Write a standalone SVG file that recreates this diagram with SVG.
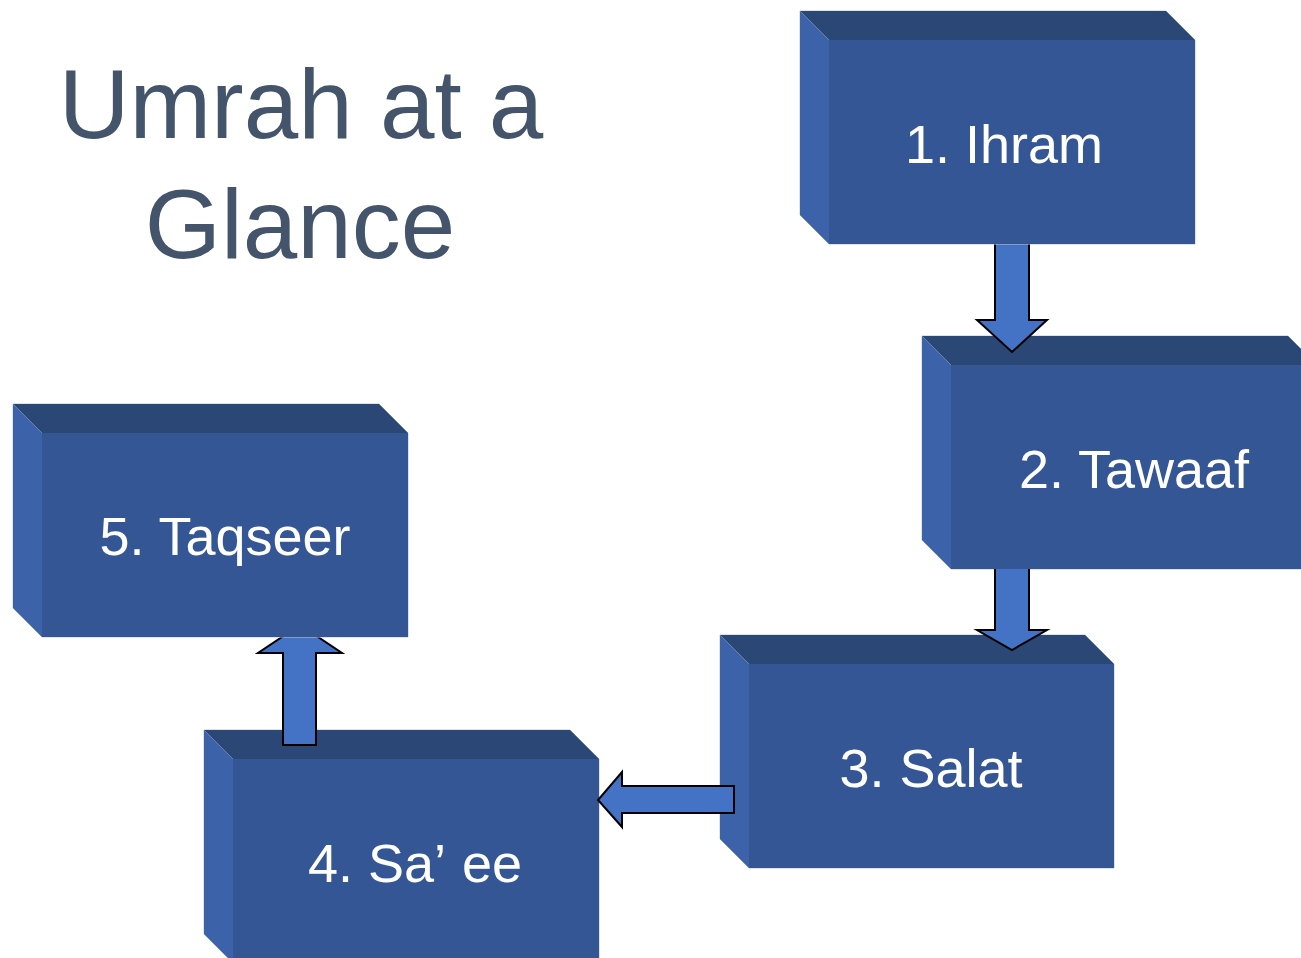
<svg xmlns="http://www.w3.org/2000/svg" width="1301" height="958" viewBox="0 0 1301 958">
<style>
.top{fill:#2A4776}
.left{fill:#3C63A9}
.front{fill:#345694}
.edge{fill:none;stroke:#BFC4CC;stroke-width:1}
.lbl{font-family:"Liberation Sans",Arial,sans-serif;font-size:54px;fill:#FFFFFF;text-anchor:middle}
.title{font-family:"Liberation Sans",Arial,sans-serif;font-size:98px;fill:#44546A;text-anchor:middle}
.arrow{fill:#4472C4;stroke:#000000;stroke-width:2;stroke-linejoin:miter}
</style>
<rect width="1301" height="958" fill="#FFFFFF"/>
<g id="title">
<text class="title" x="301" y="138">Umrah at a</text>
<text class="title" x="300" y="258">Glance</text>
</g>
<g id="node2">
<path class="edge" d="M922,336 L1288,336 L1317,365 L1317,569 L951,569 L922,540 Z"/>
<polygon class="top" points="922,336 1288,336 1317,365 951,365"/>
<polygon class="left" points="922,336 951,365 951,569 922,540"/>
<rect class="front" x="951" y="365" width="366" height="204"/>
<text class="lbl" x="1134" y="488">2. Tawaaf</text>
</g>
<g id="node3">
<path class="edge" d="M720,635 L1085,635 L1114,664 L1114,868 L749,868 L720,839 Z"/>
<polygon class="top" points="720,635 1085,635 1114,664 749,664"/>
<polygon class="left" points="720,635 749,664 749,868 720,839"/>
<rect class="front" x="749" y="664" width="365" height="204"/>
<text class="lbl" x="931" y="787">3. Salat</text>
</g>
<g id="node4">
<path class="edge" d="M204,730 L570,730 L599,759 L599,963 L233,963 L204,934 Z"/>
<polygon class="top" points="204,730 570,730 599,759 233,759"/>
<polygon class="left" points="204,730 233,759 233,963 204,934"/>
<rect class="front" x="233" y="759" width="366" height="204"/>
<text class="lbl" x="415" y="882">4. Sa’<tspan dx="16">ee</tspan></text>
</g>
<g id="connectors">
<path class="arrow" d="M1029,240 L1029,320 L1047,320 L1012,352 L977,320 L995,320 L995,240"/>
<path class="arrow" d="M1029,569 L1029,630 L1047,630 L1012,650 L977,630 L995,630 L995,569"/>
<path class="arrow" d="M734,786 L734,813 L622,813 L622,827 L598,800 L622,772 L622,786 Z"/>
<path class="arrow" d="M283,745 L316,745 L316,653 L342,653 L300,625 L258,653 L283,653 Z"/>
</g>
<g id="node1">
<path class="edge" d="M800,11 L1166,11 L1195,40 L1195,244 L829,244 L800,215 Z"/>
<polygon class="top" points="800,11 1166,11 1195,40 829,40"/>
<polygon class="left" points="800,11 829,40 829,244 800,215"/>
<rect class="front" x="829" y="40" width="366" height="204"/>
<text class="lbl" x="1004" y="163">1. Ihram</text>
</g>
<g id="node5">
<path class="edge" d="M13,404 L379,404 L408,433 L408,637 L42,637 L13,608 Z"/>
<polygon class="top" points="13,404 379,404 408,433 42,433"/>
<polygon class="left" points="13,404 42,433 42,637 13,608"/>
<rect class="front" x="42" y="433" width="366" height="204"/>
<text class="lbl" x="225" y="555">5. Taqseer</text>
</g>
</svg>
